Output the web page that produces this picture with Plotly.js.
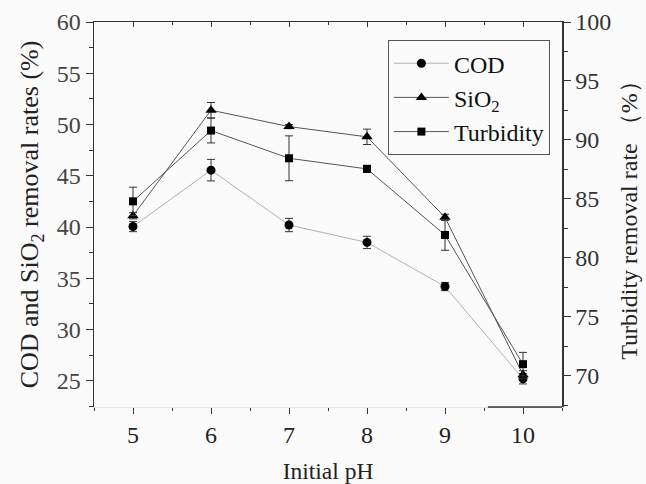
<!DOCTYPE html>
<html>
<head>
<meta charset="utf-8">
<script src="https://cdn.plot.ly/plotly-3.0.1.min.js"></script>
<style>html,body{margin:0;padding:0;background:#fbfbfb;}#chart{width:646px;height:484px;}</style>
</head>
<body>
<div id="chart"></div>
<script>
const pH = [5, 6, 7, 8, 9, 10];
const codRate = [40.05, 45.55, 40.2, 38.5, 34.2, 25.2];
const codErr = [0.5, 1.05, 0.65, 0.6, 0.4, 0.5];
const sio2Rate = [41.1, 51.4, 49.8, 48.8, 40.95, 25.6];
const sio2Err = [0.3, 0.75, 0.2, 0.75, 0.3, 0.4];
const turbRate = [84.8, 90.8, 88.45, 87.55, 81.95, 71.0];
const turbErr = [1.2, 1.05, 1.9, 0.3, 1.3, 1.0];
const yTicks = [25, 30, 35, 40, 45, 50, 55, 60];
const y2Ticks = [70, 75, 80, 85, 90, 95, 100];
const xTicks = [5, 6, 7, 8, 9, 10];

const serif = '"Liberation Serif", "Times New Roman", Times, serif';
const errStyle = {type: 'data', visible: true, color: '#333', thickness: 1, width: 4};

const traces = [
  {x: pH, y: codRate, name: 'COD', type: 'scatter', mode: 'lines+markers',
   line: {color: '#b0b0b0', width: 1}, marker: {symbol: 'circle', size: 9, color: '#000'},
   error_y: Object.assign({array: codErr}, errStyle)},
  {x: pH, y: sio2Rate, name: 'SiO<sub>2</sub>', type: 'scatter', mode: 'lines+markers',
   line: {color: '#555', width: 1}, marker: {symbol: 'triangle-up', size: 10, color: '#000'},
   error_y: Object.assign({array: sio2Err}, errStyle)},
  {x: pH, y: turbRate, name: 'Turbidity', type: 'scatter', mode: 'lines+markers', yaxis: 'y2',
   line: {color: '#555', width: 1}, marker: {symbol: 'square', size: 8, color: '#000'},
   error_y: Object.assign({array: turbErr}, errStyle)},
  {x: [pH[0]], y: [null], xaxis: 'x2', showlegend: false, hoverinfo: 'skip', type: 'scatter'}
];

const layout = {
  width: 646, height: 484,
  paper_bgcolor: '#fbfbfb', plot_bgcolor: 'rgba(0,0,0,0)',
  margin: {l: 94, r: 84, t: 22, b: 77},
  font: {family: serif, color: '#222', size: 24},
  showlegend: true,
  legend: {x: 0.628, y: 0.953, xanchor: 'left', yanchor: 'top', itemwidth: 55,
    bgcolor: 'rgba(0,0,0,0)', bordercolor: '#555', borderwidth: 1,
    font: {family: serif, size: 24, color: '#111'}, tracegroupgap: 0},
  xaxis: {range: [4.5, 10.5], tickvals: xTicks, ticks: 'outside', ticklen: 6, tickwidth: 1,
    tickcolor: '#333', showline: true, linecolor: '#e4e4e4', linewidth: 1, showgrid: false,
    zeroline: false, tickfont: {family: serif, size: 24, color: '#222'},
    minor: {dtick: 0.5, tick0: 4.5, ticks: 'outside', ticklen: 3, tickcolor: '#333'},
    title: {text: 'Initial pH', font: {family: serif, size: 23.5, color: '#222'}, standoff: 19}},
  xaxis2: {range: [4.5, 10.5], overlaying: 'x', side: 'top', tickvals: xTicks, ticks: 'inside',
    ticklen: 5, tickcolor: '#333', showticklabels: false, showline: true, linecolor: '#333',
    linewidth: 1, showgrid: false, zeroline: false,
    minor: {dtick: 0.5, tick0: 4.5, ticks: 'inside', ticklen: 3, tickcolor: '#333'}},
  yaxis: {range: [22.45, 60], tickvals: yTicks, ticks: 'outside', ticklen: 7, tickwidth: 1,
    tickcolor: '#333', showline: true, linecolor: '#333', linewidth: 1.5, showgrid: false,
    zeroline: false, tickfont: {family: serif, size: 24, color: '#444'},
    minor: {dtick: 2.5, tick0: 25, ticks: 'outside', ticklen: 4, tickcolor: '#333'},
    title: {text: 'COD and SiO<sub>2</sub> removal rates (%)', font: {family: serif, size: 26, color: '#222'}, standoff: 10}},
  yaxis2: {range: [67.37, 100], overlaying: 'y', side: 'right', tickvals: y2Ticks, ticks: 'outside',
    ticklen: 7, tickwidth: 1, tickcolor: '#333', showline: true, linecolor: '#333', linewidth: 1.5,
    showgrid: false, zeroline: false, tickfont: {family: serif, size: 24, color: '#333'},
    minor: {dtick: 2.5, tick0: 70, ticks: 'outside', ticklen: 4, tickcolor: '#333'},
    title: {text: 'Turbidity removal rate （%）', font: {family: serif, size: 24, color: '#222'}, standoff: 10}},
  shapes: [
    {type: 'line', xref: 'x', yref: 'paper', x0: 9.55, x1: 10.5, y0: 0, y1: 0,
     line: {color: '#333', width: 1.5}}
  ]
};

Plotly.newPlot('chart', traces, layout, {displayModeBar: false, staticPlot: true});
</script>
</body>
</html>
